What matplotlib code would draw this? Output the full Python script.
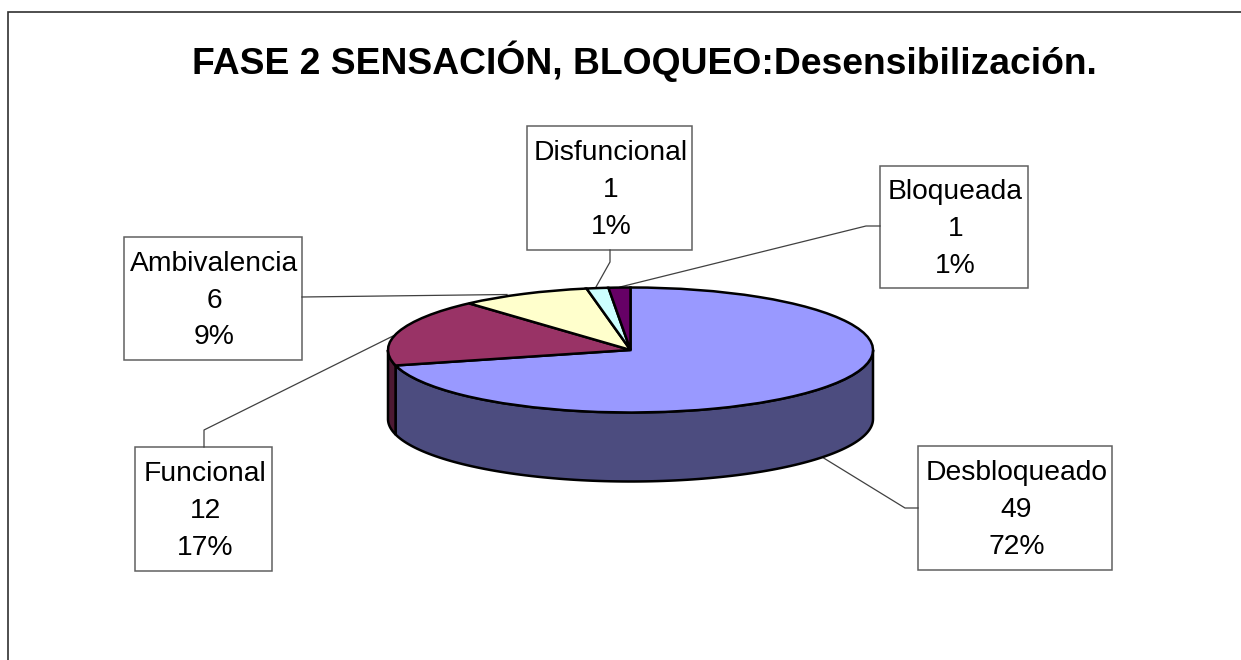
import numpy as np
import matplotlib
matplotlib.use("Agg")
import matplotlib.pyplot as plt

plt.rcParams['font.family'] = ['Liberation Sans', 'DejaVu Sans']

TITLE = "FASE 2 SENSACIÓN, BLOQUEO:Desensibilización."
categories = ["Desbloqueado", "Funcional", "Ambivalencia", "Disfuncional", "Bloqueada"]
values = [49, 12, 6, 1, 1]
percents = [72, 17, 9, 1, 1]
top_colors = ["#9999FF", "#993366", "#FFFFCC", "#CCFFFF", "#660066"]
side_colors = ["#4C4C7F", "#4C1933", "#7F7F66", "#667F7F", "#330033"]

W, H = 1241, 660
fig = plt.figure(figsize=(W / 100, H / 100), dpi=100, facecolor="white")

# Overlay in pixel coordinates for chart furniture
bg = fig.add_axes([0, 0, 1, 1], zorder=1)
bg.set_xlim(0, W)
bg.set_ylim(H, 0)
bg.axis("off")

# Chart border (cut by the image on the right and bottom)
bg.plot([8, 8, W], [H, 12, 12], color="#303030", lw=1.2, solid_joinstyle="miter")

bg.text(644.5, 61, TITLE, ha="center", va="center", fontsize=26.8, fontweight="bold", color="black")

boxes = {
    "Desbloqueado": (918, 446, 1112, 570),
    "Funcional": (135, 447, 272, 571),
    "Ambivalencia": (124, 237, 302, 360),
    "Disfuncional": (527, 126, 692, 250),
    "Bloqueada": (880, 166, 1028, 288),
}
leaders = {
    "Desbloqueado": ([918, 905, 822], [508, 508, 457]),
    "Funcional": ([204, 204, 395], [447, 430, 335]),
    "Ambivalencia": ([302, 507], [297, 294.5]),
    "Disfuncional": ([610, 610, 596], [250, 262, 287]),
    "Bloqueada": ([880, 866, 620], [226, 226, 287]),
}
for cat, val, pct in zip(categories, values, percents):
    x0, y0, x1, y1 = boxes[cat]
    lx, ly = leaders[cat]
    bg.plot(lx, ly, color="#404040", lw=0.9)
    bg.add_patch(plt.Rectangle((x0, y0), x1 - x0, y1 - y0, fc="white", ec="#606060", lw=1.1))
    bg.text((x0 + x1) / 2 + 1.5, (y0 + y1) / 2 + 2, f"{cat}\n{val}\n{pct}%", ha="center", va="center",
            fontsize=20.3, color="black", linespacing=1.53)

# Pie: an ordinary pie stretched into an ellipse, with an extruded rim
cx, cy, rx, ry, depth = 630.5, 350, 242.5, 62.5, 69
ax = fig.add_axes([(cx - rx) / W, 1 - (cy + ry) / H, 2 * rx / W, 2 * ry / H], zorder=2)
wedges, _ = ax.pie(values, colors=top_colors, startangle=90, counterclock=False, radius=1,
                   wedgeprops=dict(edgecolor="black", linewidth=1.8, clip_on=False))
ax.set_aspect("auto")
ax.set_xlim(-1, 1)
ax.set_ylim(-1, 1)
ax.patch.set_visible(False)
for w in wedges:
    w.set_zorder(5)

d = depth / ry
angles = 90 - np.cumsum([0] + values) / sum(values) * 360
for i, col in enumerate(side_colors):
    hi, lo = angles[i], angles[i + 1]
    # bring the wedge's span into the front half of the ellipse (-180..0 degrees)
    a = max(lo, -180)
    b = min(hi, 0)
    if b <= a:
        continue
    t = np.radians(np.linspace(a, b, 120))
    xs = np.cos(t)
    ys = np.sin(t)
    ax.fill(np.r_[xs, xs[::-1]], np.r_[ys, ys[::-1] - d], fc=col, ec="black", lw=1.8,
            clip_on=False, zorder=3)

fig.savefig("out.png", dpi=100, facecolor="white")
